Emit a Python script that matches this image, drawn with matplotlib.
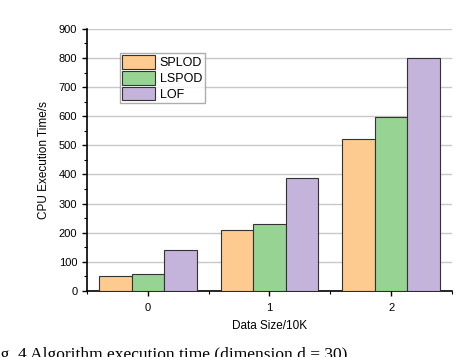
import matplotlib.pyplot as plt
import numpy as np
from matplotlib.ticker import MultipleLocator

# data
sizes = [0, 1, 2]
splod = [50, 209, 522]
lspod = [58, 231, 598]
lof = [141, 389, 800]

series = [('SPLOD', splod, '#fdca8f'),
          ('LSPOD', lspod, '#97d494'),
          ('LOF', lof, '#c4b3da')]

plt.rcParams['font.family'] = ['Liberation Sans', 'DejaVu Sans']

fig = plt.figure(figsize=(4.74, 3.57), dpi=100)
ax = fig.add_axes([0.1835, 0.185, 0.770, 0.734])

x = np.arange(len(sizes))
w = 0.267
for i, (name, vals, col) in enumerate(series):
    ax.bar(x + (i - 1) * w, vals, w, color=col, edgecolor='#333333',
           linewidth=0.8, label=name, zorder=3)

ax.set_xlim(-0.5, 2.5)
ax.set_ylim(0, 900)
ax.set_xticks(x)
ax.set_xticklabels([str(s) for s in sizes])
ax.xaxis.set_minor_locator(MultipleLocator(0.5))
ax.yaxis.set_major_locator(MultipleLocator(100))
ax.yaxis.set_minor_locator(MultipleLocator(50))
ax.tick_params(axis='both', which='major', labelsize=8, length=3.5, width=1, direction='out')
ax.tick_params(axis='x', which='major', pad=5)
ax.tick_params(axis='both', which='minor', length=2, width=0.8, direction='out')
ax.grid(axis='y', color='#c8c8c8', linewidth=1, zorder=0)

for s in ['top', 'right']:
    ax.spines[s].set_visible(False)
for s in ['left', 'bottom']:
    ax.spines[s].set_linewidth(1.2)

ax.set_xlabel('Data Size/10K', fontsize=8.5, labelpad=5)
ax.set_ylabel('CPU Execution Time/s', fontsize=8.5, labelpad=6)

leg = ax.legend(loc='upper left', bbox_to_anchor=(0.09, 0.91), fontsize=9,
                frameon=True, fancybox=False, edgecolor='#999999',
                handlelength=2.6, handleheight=1.3, handletextpad=0.4,
                labelspacing=0.15, borderpad=0.2, borderaxespad=0)
leg.get_frame().set_linewidth(1)

fig.text(-0.03, 0.005, 'Fig. 4 Algorithm execution time (dimension d = 30)',
         family='Liberation Serif', fontsize=12.5, ha='left', va='center')

plt.savefig('out.png', dpi=100)
